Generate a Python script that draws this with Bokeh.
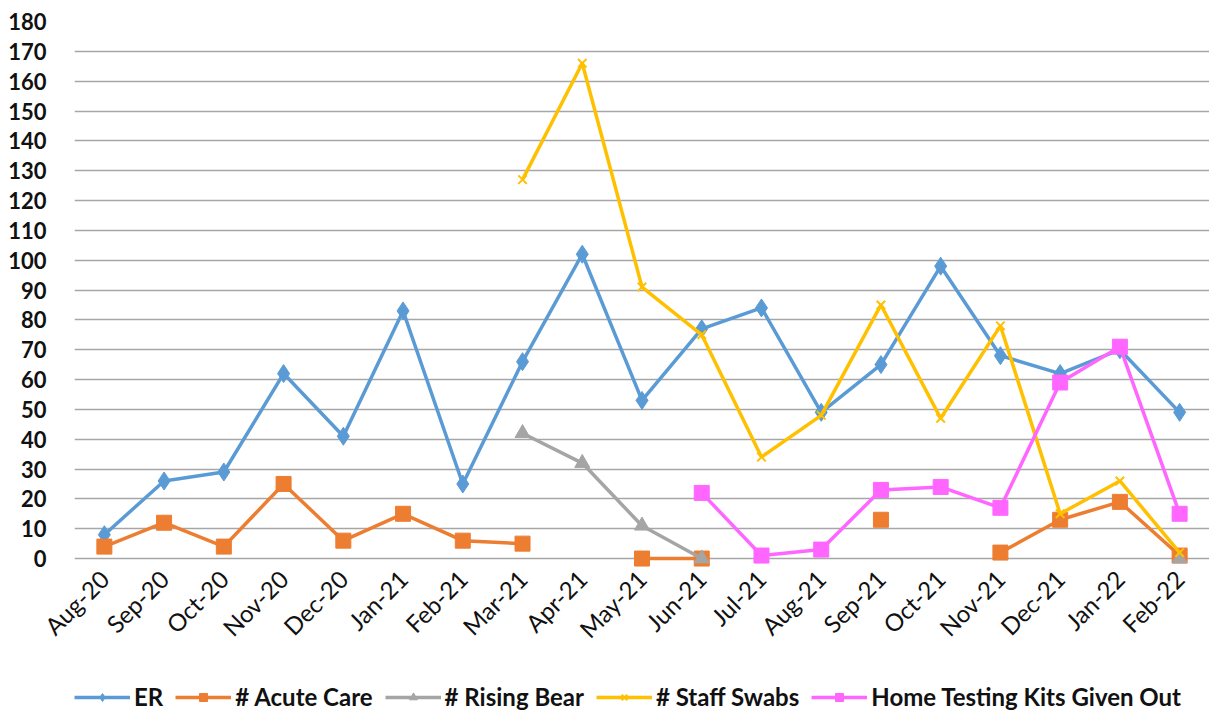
import math
from bokeh.plotting import figure
from bokeh.layouts import column
from bokeh.models import FactorRange, Range1d, Legend, LegendItem, FixedTicker
from bokeh.embed import file_html
from bokeh.resources import INLINE

nan = float("nan")

months = ["Aug-20", "Sep-20", "Oct-20", "Nov-20", "Dec-20", "Jan-21", "Feb-21",
          "Mar-21", "Apr-21", "May-21", "Jun-21", "Jul-21", "Aug-21", "Sep-21",
          "Oct-21", "Nov-21", "Dec-21", "Jan-22", "Feb-22"]

er = [8, 26, 29, 62, 41, 83, 25, 66, 102, 53, 77, 84, 49, 65, 98, 68, 62, 70, 49]
acute_care = [4, 12, 4, 25, 6, 15, 6, 5, nan, 0, 0, nan, nan, 13, nan, 2, 13, 19, 1]
rising_bear = [nan, nan, nan, nan, nan, nan, nan, 42, 32, 11, 0, nan, nan, nan,
               nan, nan, nan, nan, 0]
staff_swabs = [nan, nan, nan, nan, nan, nan, nan, 127, 166, 91, 75, 34, 48, 85,
               47, 78, 15, 26, 2]
home_kits = [nan, nan, nan, nan, nan, nan, nan, nan, nan, nan, 22, 1, 3, 23, 24,
             17, 59, 71, 15]

y_ticks = list(range(0, 181, 10))

FONT = "Lato"
LINE_W = 3.5

# a little room under zero so markers sitting on the baseline are not clipped
p = figure(
    width=1209, height=670,
    x_range=FactorRange(*months, range_padding=0),
    y_range=Range1d(-3, 180),
    output_backend="svg", toolbar_location=None,
    min_border_left=74, min_border_right=0, min_border_top=21, min_border_bottom=103,
    background_fill_color="white", border_fill_color="white",
)
p.outline_line_color = None

# axes
p.yaxis.ticker = FixedTicker(ticks=y_ticks)
p.yaxis.axis_line_color = None
p.yaxis.major_tick_line_color = None
p.yaxis.minor_tick_line_color = None
p.yaxis.major_label_text_font = FONT
p.yaxis.major_label_text_font_style = "bold"
p.yaxis.major_label_text_font_size = "22px"
p.yaxis.major_label_text_color = "#111111"
p.yaxis.major_label_standoff = 22

p.xaxis.axis_line_color = None
p.xaxis.major_tick_line_color = None
p.xaxis.minor_tick_line_color = None
p.xaxis.major_label_orientation = math.pi / 4
p.xaxis.major_label_text_font = FONT
p.xaxis.major_label_text_font_size = "24px"
p.xaxis.major_label_text_color = "#111111"
p.xaxis.major_label_standoff = 1

p.xgrid.grid_line_color = None
p.ygrid.grid_line_color = "#A6A6A6"
p.ygrid.grid_line_width = 1.5

series = [
    ("ER", er, "#5B9BD5", "diamond", 18),
    ("# Acute Care", acute_care, "#ED7D31", "square", 15),
    ("# Rising Bear", rising_bear, "#A5A5A5", "triangle", 15),
    ("# Staff Swabs", staff_swabs, "#FFC000", "x", 12),
    ("Home Testing Kits Given Out", home_kits, "#FF66FF", "square", 15),
]

# strip beneath the chart that carries the legend
key = figure(
    width=1209, height=41, x_range=Range1d(0, 1), y_range=Range1d(0, 1),
    output_backend="svg", toolbar_location=None,
    min_border=0, background_fill_color="white", border_fill_color="white",
)
key.outline_line_color = None
key.axis.visible = False
key.grid.visible = False

items = []
for name, vals, color, marker, size in series:
    p.line(months, vals, line_color=color, line_width=LINE_W)
    p.scatter(
        [m for m, v in zip(months, vals) if not math.isnan(v)],
        [v for v in vals if not math.isnan(v)],
        marker=marker, size=size, fill_color=color, line_color=color,
        line_width=2 if marker == "x" else 1,
    )
    # off-range stand-ins, drawn only as legend swatches
    k_ln = key.line([5, 6], [5, 6], line_color=color, line_width=LINE_W)
    k_pt = key.scatter([5], [5], marker=marker, size=size - 3, fill_color=color,
                       line_color=color, line_width=2 if marker == "x" else 1)
    items.append(LegendItem(label=name, renderers=[k_ln, k_pt]))

legend = Legend(
    items=items, orientation="horizontal", location=(0, 0),
    label_text_font=FONT, label_text_font_style="bold",
    label_text_font_size="24px", label_text_color="#111111",
    glyph_width=56, glyph_height=20, spacing=12, label_standoff=4,
    border_line_color=None, background_fill_alpha=0, margin=0, padding=0,
)
key.add_layout(legend, "center")

open("out.html", "w").write(file_html(column(p, key, spacing=0), INLINE))
